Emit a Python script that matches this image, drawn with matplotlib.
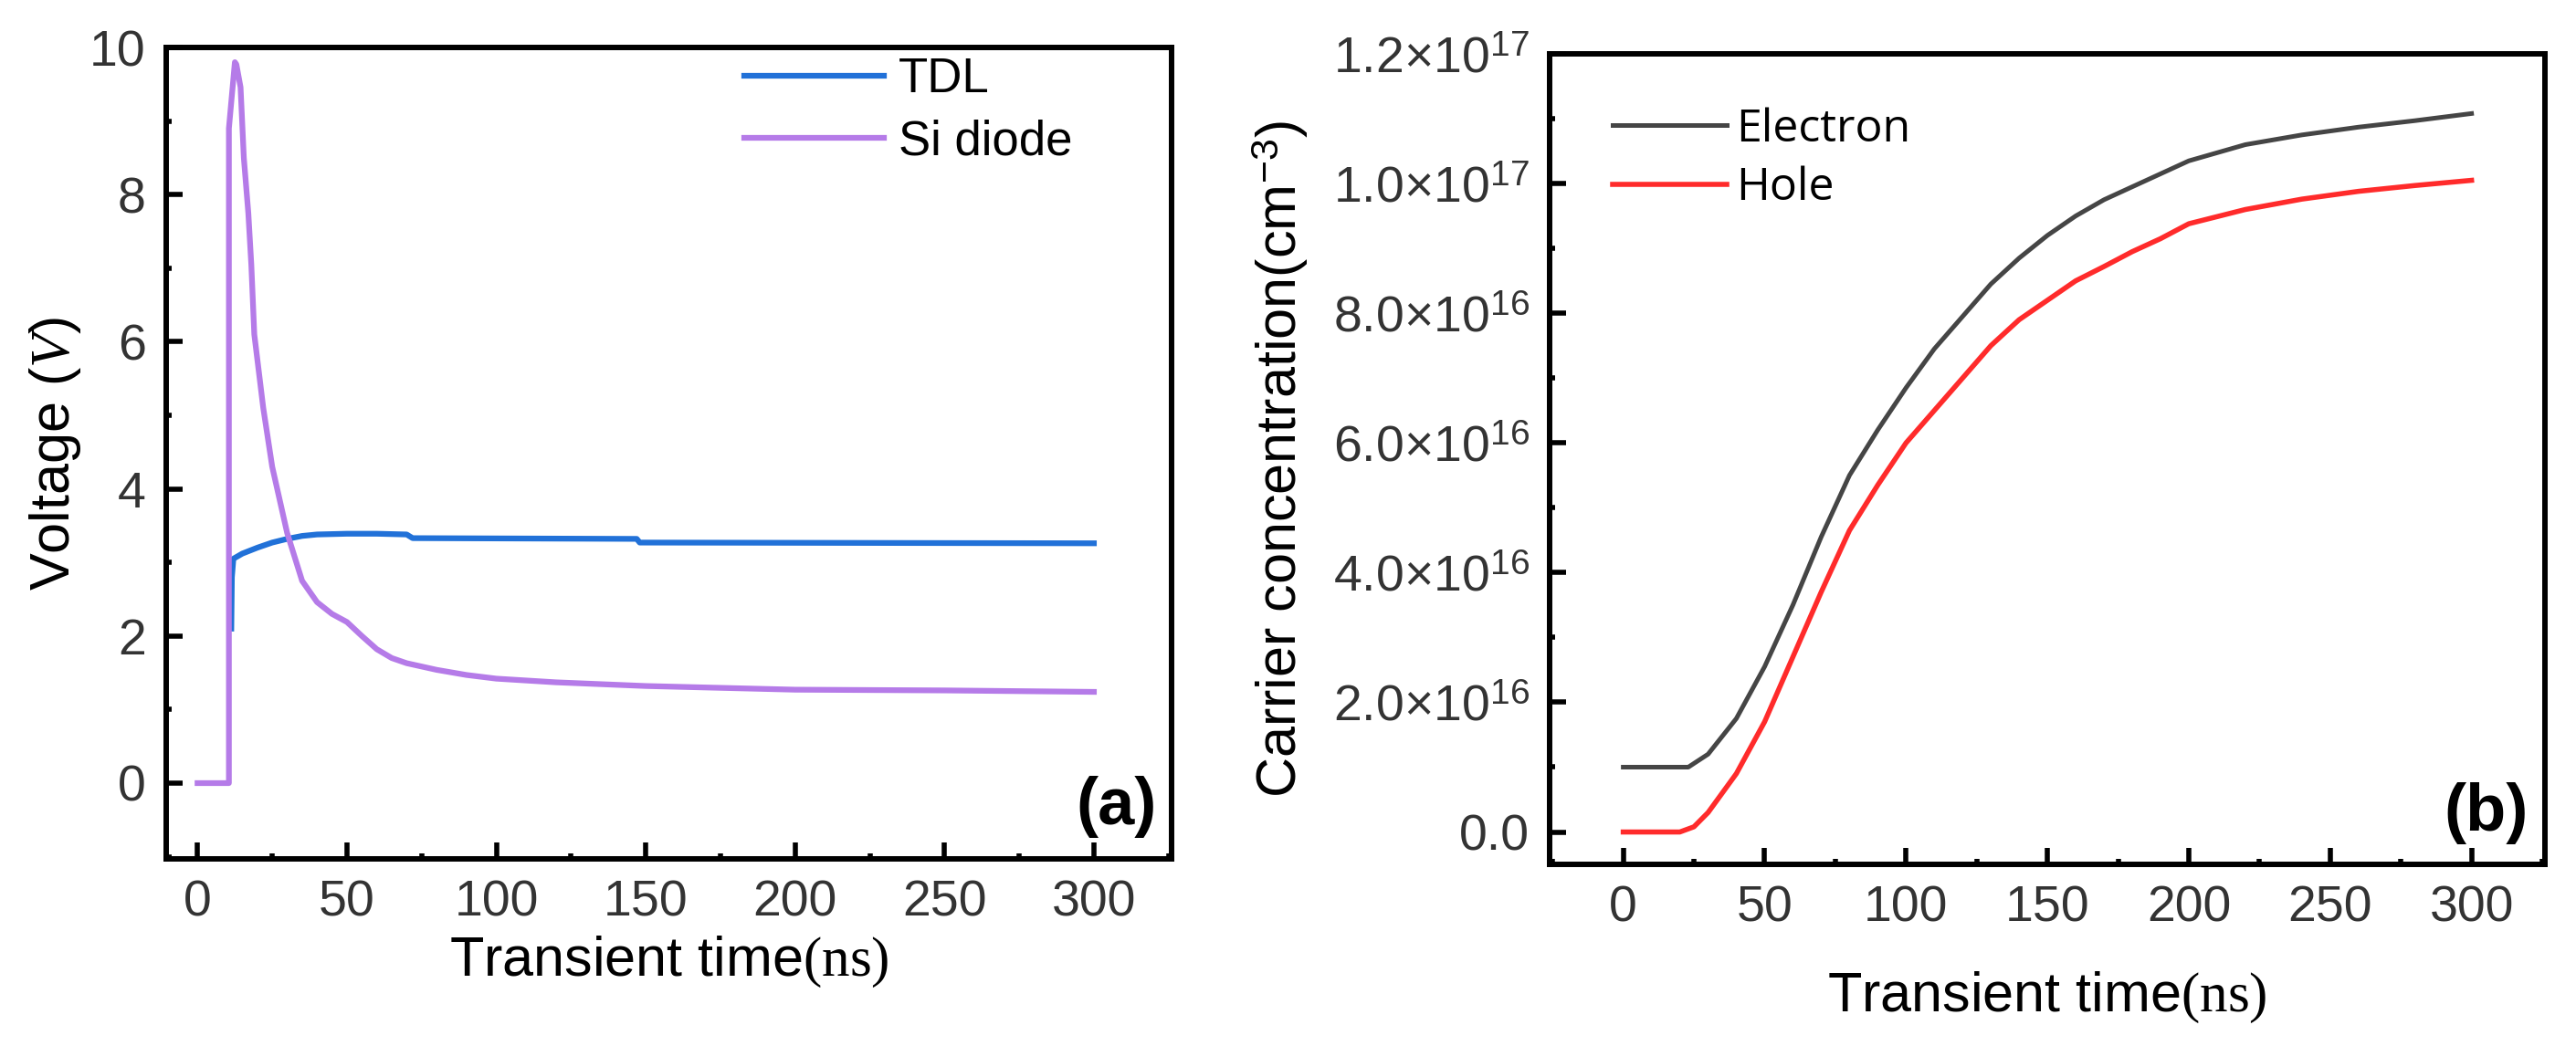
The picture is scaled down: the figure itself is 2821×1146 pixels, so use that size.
import matplotlib
matplotlib.use("Agg")
import matplotlib.pyplot as plt
from matplotlib.ticker import MultipleLocator, FuncFormatter

plt.rcParams["font.family"] = ["Liberation Sans", "DejaVu Sans"]
plt.rcParams["mathtext.fontset"] = "custom"
plt.rcParams["mathtext.rm"] = "Liberation Serif"
plt.rcParams["mathtext.it"] = "Liberation Serif:italic"
plt.rcParams["mathtext.sf"] = "Liberation Sans"

# panel (a): voltage transients
t_si = [0, 10.5, 10.5, 12.5, 13, 14.4, 15.5, 17, 18, 19, 22, 25, 30, 35, 40, 45, 50, 55,
        60, 65, 70, 80, 90, 100, 120, 150, 200, 250, 300]
v_si = [0, 0, 8.9, 9.8, 9.77, 9.46, 8.5, 7.75, 7.05, 6.1, 5.1, 4.3, 3.4, 2.75, 2.46, 2.3, 2.19, 2.0,
        1.82, 1.7, 1.63, 1.54, 1.47, 1.42, 1.37, 1.32, 1.27, 1.26, 1.24]
t_tdl = [11.3, 11.5, 12, 15, 20, 25, 30, 35, 40, 50, 60, 70, 72, 147, 148, 300]
v_tdl = [2.1, 2.8, 3.05, 3.12, 3.2, 3.27, 3.32, 3.36, 3.38, 3.39, 3.39, 3.38, 3.33, 3.32, 3.27, 3.26]

# panel (b): carrier concentration, units of 1e16 cm^-3
t_b = [0, 23, 30, 40, 50, 60, 70, 80, 90, 100, 110, 120, 130, 140, 150, 160, 170, 180,
       190, 200, 220, 240, 260, 280, 300]
electron = [1.0, 1.0, 1.2, 1.75, 2.55, 3.5, 4.55, 5.5, 6.2, 6.85, 7.45, 7.95, 8.45, 8.85, 9.2,
            9.5, 9.75, 9.95, 10.15, 10.35, 10.6, 10.75, 10.87, 10.97, 11.08]
t_h = [0, 20, 25, 30, 40, 50, 60, 70, 80, 90, 100, 110, 120, 130, 140, 150, 160, 170, 180,
       190, 200, 220, 240, 260, 280, 300]
hole = [0, 0, 0.08, 0.3, 0.9, 1.7, 2.7, 3.7, 4.65, 5.35, 6.0, 6.5, 7.0, 7.5, 7.9, 8.2, 8.5,
        8.72, 8.95, 9.15, 9.38, 9.6, 9.76, 9.88, 9.97, 10.05]

fig = plt.figure(figsize=(28.21, 11.46), dpi=100)
ax1 = fig.add_axes([0.0645, 0.1789, 0.3903, 0.7757])
ax2 = fig.add_axes([0.6016, 0.1736, 0.3864, 0.7749])


def style(ax):
    for s in ax.spines.values():
        s.set_linewidth(4.3)
    ax.tick_params(which="major", direction="in", length=13, width=4, pad=16,
                   labelsize=40, labelcolor="#333333", top=False, right=False)
    ax.tick_params(which="minor", direction="in", length=4, width=4, top=False, right=False)


ax1.plot(t_tdl, v_tdl, color="#2171d8", lw=4.5, label="TDL")
ax1.plot(t_si, v_si, color="#b57be8", lw=4.5, label="Si diode")
ax1.set_xlim(-10.5, 326)
ax1.set_ylim(-1.03, 10)
ax1.xaxis.set_major_locator(MultipleLocator(50))
ax1.xaxis.set_minor_locator(MultipleLocator(25))
ax1.yaxis.set_major_locator(MultipleLocator(2))
ax1.yaxis.set_minor_locator(MultipleLocator(1))
style(ax1)
ax1.set_xlabel(r"Transient time$\mathrm{(ns)}$", fontsize=44, labelpad=6)
ax1.set_ylabel(r"Voltage ($V$)", fontsize=44, labelpad=5)
ax1.legend(loc="upper left", bbox_to_anchor=(0.532, 1.042), frameon=False, fontsize=38,
           handlelength=2.9, handletextpad=0.3, labelspacing=0.35)
ax1.text(0.985, 0.043, "(a)", transform=ax1.transAxes, ha="right", va="baseline",
         fontsize=52, fontweight="bold")

ax2.plot(t_b, [v * 1e16 for v in electron], color="#454545", lw=3.6, label="Electron")
ax2.plot(t_h, [v * 1e16 for v in hole], color="#ff2b2b", lw=4, label="Hole")
ax2.set_xlim(-26, 326)
ax2.set_ylim(-0.5e16, 1.2e17)
ax2.xaxis.set_major_locator(MultipleLocator(50))
ax2.xaxis.set_minor_locator(MultipleLocator(25))
ax2.yaxis.set_major_locator(MultipleLocator(2e16))
ax2.yaxis.set_minor_locator(MultipleLocator(1e16))


def sci(v, pos):
    if abs(v) < 1:
        return "0.0"
    e = 16 if v < 9.99e16 else 17
    return r"%.1f×10$^{\mathsf{%d}}$" % (v / 10 ** e, e)


ax2.yaxis.set_major_formatter(FuncFormatter(sci))
style(ax2)
ax2.set_xlabel(r"Transient time$\mathrm{(ns)}$", fontsize=44, labelpad=30)
ax2.set_ylabel(r"Carrier concentration(cm$^{\mathsf{-3}}$)", fontsize=44, labelpad=18)
ax2.legend(loc="upper left", bbox_to_anchor=(0.022, 0.985), frameon=False,
           handlelength=2.5, handletextpad=0.2, labelspacing=0.3,
           prop={"family": "Open Sans", "size": 36})
ax2.text(0.983, 0.042, "(b)", transform=ax2.transAxes, ha="right", va="baseline",
         fontsize=52, fontweight="bold")

fig.savefig("out.png", dpi=100)
